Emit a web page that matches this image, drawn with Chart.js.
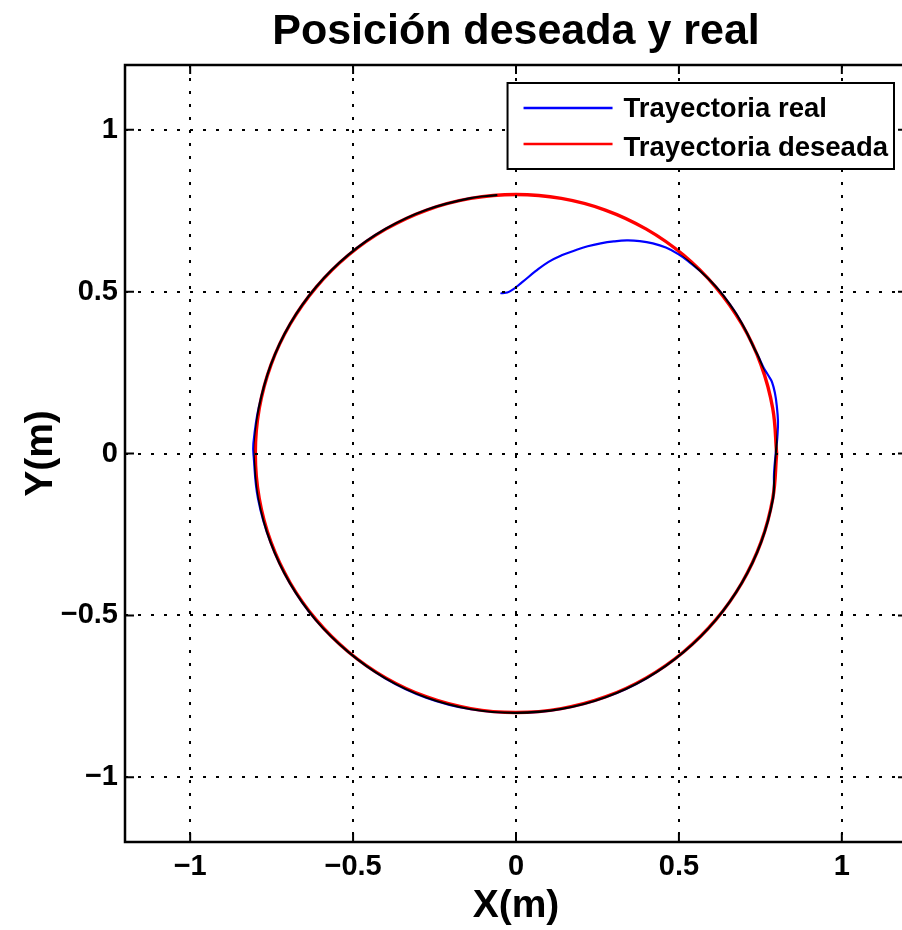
<!DOCTYPE html>
<html>
<head>
<meta charset="utf-8">
<title>Posición deseada y real</title>
<script src="https://cdn.jsdelivr.net/npm/chart.js@4.4.1/dist/chart.umd.min.js"></script>
<style>
  html, body { margin: 0; padding: 0; background: #fff; overflow: hidden; }
  #wrap { width: 910px; height: 930px; }
</style>
</head>
<body>
<div id="wrap"><canvas id="plot" width="910" height="930"></canvas></div>
<script>
// trayectoria medida del robot (m)
const realX = [-0.045, -0.02, 0.02, 0.06, 0.1, 0.14, 0.18, 0.22, 0.26, 0.3, 0.34, 0.38, 0.42, 0.46, 0.498,
  0.53, 0.566, 0.598, 0.627, 0.655, 0.679, 0.705, 0.731, 0.745, 0.76, 0.775, 0.786, 0.795, 0.8, 0.804, 0.802, 0.797, 0.792,
  0.789, 0.753, 0.694, 0.614, 0.516, 0.401, 0.275, 0.14, 0.0, -0.139, -0.276, -0.402, -0.516, -0.615, -0.695, -0.754, -0.792,
  -0.805, -0.806, -0.79, -0.752, -0.693, -0.613, -0.514, -0.4, -0.274, -0.139, -0.06];
const realY = [0.495, 0.5, 0.53, 0.563, 0.592, 0.612, 0.627, 0.64, 0.649, 0.655, 0.658, 0.656, 0.649, 0.636, 0.616,
  0.593, 0.563, 0.532, 0.5, 0.463, 0.427, 0.38, 0.325, 0.297, 0.265, 0.24, 0.22, 0.185, 0.15, 0.1, 0.05, 0.0, -0.06,
  -0.138, -0.272, -0.398, -0.513, -0.612, -0.694, -0.753, -0.789, -0.801, -0.79, -0.754, -0.694, -0.612, -0.514, -0.399, -0.273, -0.138,
  -0.01, 0.03, 0.14, 0.275, 0.401, 0.515, 0.614, 0.694, 0.753, 0.789, 0.798];

// trayectoria de referencia (circunferencia de 0.8 m)
const desiredX = [0.8, 0.788, 0.752, 0.693, 0.613, 0.514, 0.4, 0.274, 0.139, 0.0, -0.139, -0.274, -0.4, -0.514, -0.613, -0.693,
  -0.752, -0.788, -0.8, -0.788, -0.752, -0.693, -0.613, -0.514, -0.4, -0.274, -0.139, 0.0, 0.139, 0.274, 0.4, 0.514, 0.613,
  0.693, 0.752, 0.788, 0.8];
const desiredY = [0.0, 0.139, 0.274, 0.4, 0.514, 0.613, 0.693, 0.752, 0.788, 0.8, 0.788, 0.752, 0.693, 0.613, 0.514, 0.4,
  0.274, 0.139, 0.0, -0.139, -0.274, -0.4, -0.514, -0.613, -0.693, -0.752, -0.788, -0.8, -0.788, -0.752, -0.693, -0.613, -0.514,
  -0.4, -0.274, -0.139, 0.0];

const seriesNames = ['Trayectoria real', 'Trayectoria deseada'];
const seriesColors = ['#0000ff', '#ff0000'];
const xTicks = [-1, -0.5, 0, 0.5, 1];
const yTicks = [-1, -0.5, 0, 0.5, 1];

const FONT = '"Liberation Sans", Arial, Helvetica, sans-serif';
const toPoints = (xs, ys) => xs.map((x, i) => ({ x, y: ys[i] }));
const fmt = v => (v < 0 ? '\u2212' + Math.abs(v) : String(v));

// los trazos se mezclan (multiply) para que el solape rojo/azul quede oscuro
const mixLines = {
  id: 'mixLines',
  beforeDatasetsDraw(chart) { chart.ctx.globalCompositeOperation = 'multiply'; },
  afterDatasetsDraw(chart) { chart.ctx.globalCompositeOperation = 'source-over'; }
};

// marco de ejes con marcas hacia dentro
const boxAxes = {
  id: 'boxAxes',
  afterDraw(chart) {
    const { ctx, chartArea: a, scales: { x, y } } = chart;
    ctx.save();
    ctx.strokeStyle = '#000';
    ctx.lineWidth = 2;
    ctx.beginPath();
    xTicks.forEach(v => {
      const px = x.getPixelForValue(v);
      ctx.moveTo(px, a.bottom); ctx.lineTo(px, a.bottom - 9);
      ctx.moveTo(px, a.top); ctx.lineTo(px, a.top + 9);
    });
    yTicks.forEach(v => {
      const py = y.getPixelForValue(v);
      ctx.moveTo(a.left, py); ctx.lineTo(a.left + 9, py);
      ctx.moveTo(a.right, py); ctx.lineTo(a.right - 9, py);
    });
    ctx.stroke();
    ctx.lineWidth = 2.5;
    ctx.strokeRect(a.left, a.top, a.right - a.left, a.bottom - a.top);
    ctx.restore();
  }
};

// leyenda dentro del area, arriba a la derecha
const boxLegend = {
  id: 'boxLegend',
  afterDraw(chart) {
    const { ctx, chartArea: a } = chart;
    const sets = chart.data.datasets;
    ctx.save();
    ctx.font = 'bold 27.5px ' + FONT;
    const textW = Math.max(...sets.map(d => ctx.measureText(d.label).width));
    const w = 116 + textW + 6, h = 86;
    const left = a.right - 13 - w, top = a.top + 18;
    ctx.fillStyle = '#fff';
    ctx.fillRect(left, top, w, h);
    ctx.strokeStyle = '#000';
    ctx.lineWidth = 2;
    ctx.strokeRect(left, top, w, h);
    sets.forEach((d, i) => {
      const cy = top + 25 + i * 36;
      ctx.strokeStyle = d.borderColor;
      ctx.lineWidth = 2.5;
      ctx.beginPath();
      ctx.moveTo(left + 16, cy);
      ctx.lineTo(left + 105, cy);
      ctx.stroke();
      ctx.fillStyle = '#000';
      ctx.textBaseline = 'middle';
      ctx.fillText(d.label, left + 116, cy + 1 + i * 3);
    });
    ctx.restore();
  }
};

const gridOpts = { color: '#000', lineWidth: 2, drawTicks: false };
const borderOpts = { display: false, dash: [3, 10] };

new Chart(document.getElementById('plot'), {
  type: 'scatter',
  data: {
    datasets: [
      { label: seriesNames[0], data: toPoints(realX, realY), borderColor: seriesColors[0], backgroundColor: seriesColors[0], borderWidth: 2.2 },
      { label: seriesNames[1], data: toPoints(desiredX, desiredY), borderColor: seriesColors[1], backgroundColor: seriesColors[1], borderWidth: 3.4 }
    ]
  },
  options: {
    responsive: false,
    animation: false,
    showLine: true,
    elements: {
      point: { radius: 0, hoverRadius: 0 },
      line: { tension: 0.4, borderCapStyle: 'round', borderJoinStyle: 'round' }
    },
    layout: { padding: { top: 0, left: 0, right: 3, bottom: 0 } },
    plugins: {
      legend: { display: false },
      tooltip: { enabled: false },
      title: {
        display: true,
        fullSize: false,
        text: 'Posición deseada y real',
        color: '#000',
        font: { family: FONT, size: 43, weight: 'bold', lineHeight: 1.2 },
        padding: { top: 6, bottom: 7.4 }
      }
    },
    scales: {
      x: {
        type: 'linear', min: -1.2, max: 1.2,
        afterBuildTicks: s => { s.ticks = xTicks.map(v => ({ value: v })); },
        afterFit: s => { s.height = 88; },
        grid: gridOpts, border: borderOpts,
        ticks: { color: '#000', padding: 8, maxRotation: 0, font: { family: FONT, size: 29, weight: 'bold' }, callback: fmt },
        title: { display: true, text: 'X(m)', color: '#000', padding: { top: 0, bottom: 0.6 }, font: { family: FONT, size: 39, weight: 'bold', lineHeight: 1.2 } }
      },
      y: {
        type: 'linear', min: -1.2, max: 1.2,
        afterBuildTicks: s => { s.ticks = yTicks.map(v => ({ value: v })); },
        afterFit: s => { s.width = 125; },
        grid: gridOpts, border: borderOpts,
        ticks: { color: '#000', padding: 7, font: { family: FONT, size: 29, weight: 'bold' }, callback: fmt },
        title: { display: true, text: 'Y(m)', color: '#000', padding: { top: 17.6, bottom: 0 }, font: { family: FONT, size: 39, weight: 'bold', lineHeight: 1.2 } }
      }
    }
  },
  plugins: [mixLines, boxAxes, boxLegend]
});
</script>
</body>
</html>
